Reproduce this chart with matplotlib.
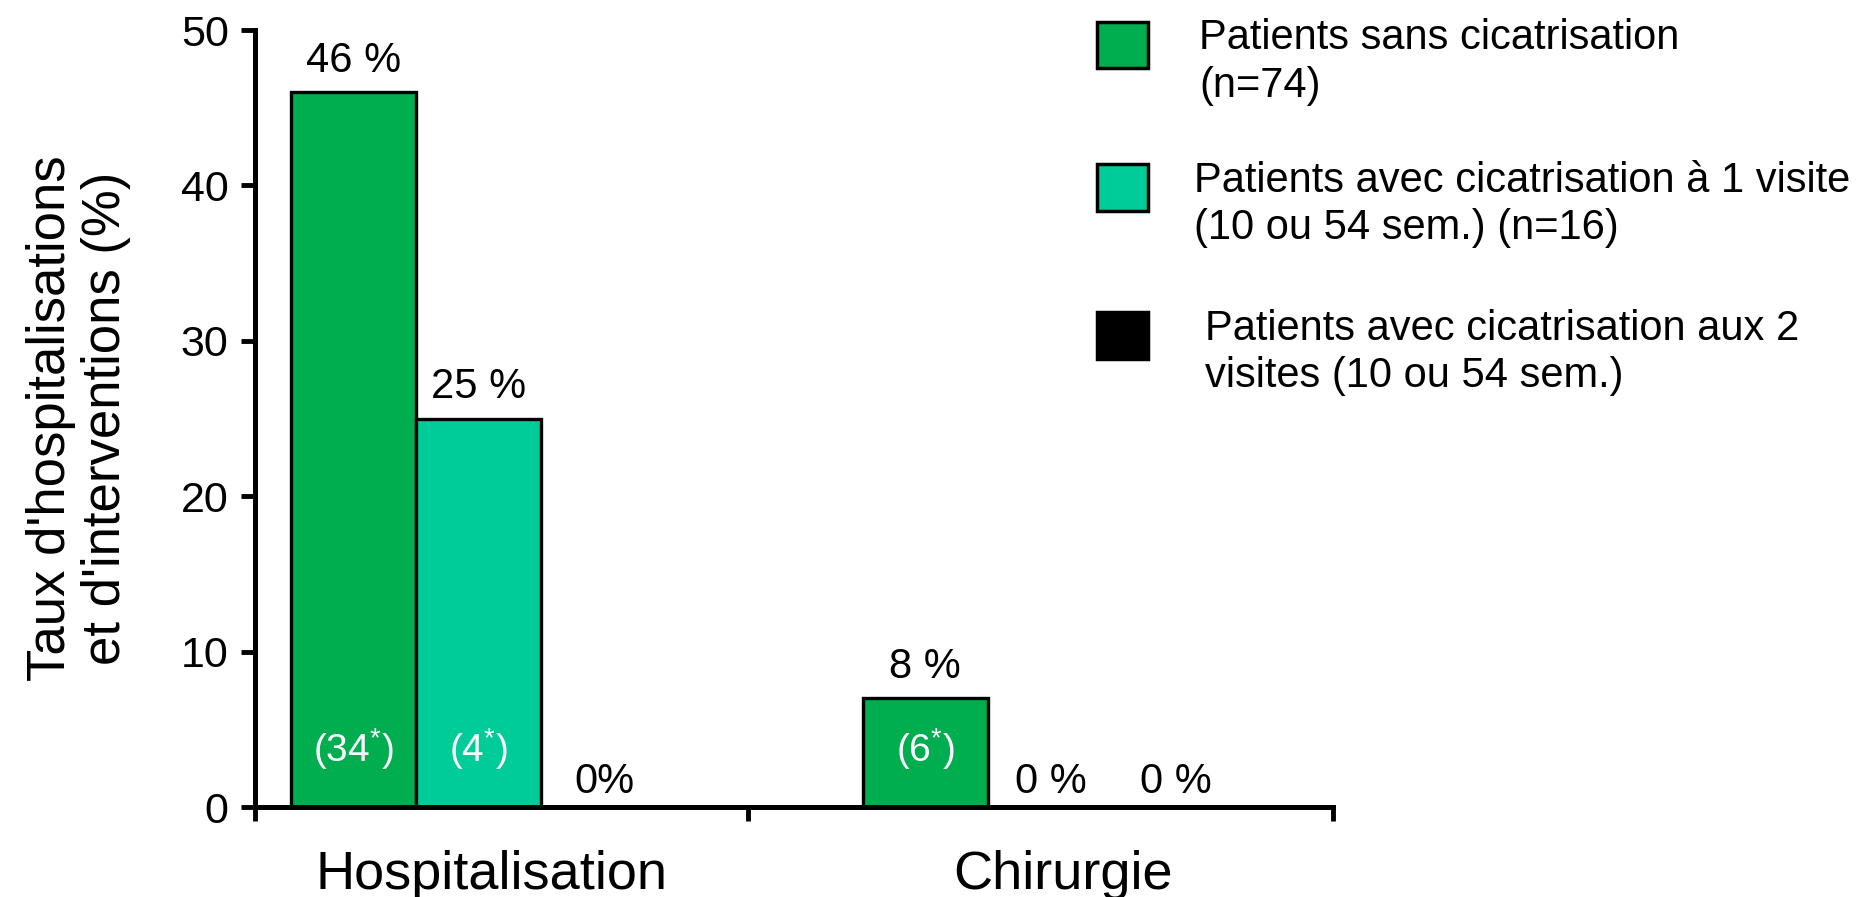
import matplotlib
matplotlib.use("Agg")
import numpy as np
import matplotlib.pyplot as plt
from matplotlib.patches import Rectangle

plt.rcParams['font.family'] = ['Liberation Sans', 'DejaVu Sans']
plt.rcParams['mathtext.fontset'] = 'custom'
plt.rcParams['mathtext.rm'] = 'Liberation Sans'
plt.rcParams['mathtext.it'] = 'Liberation Sans:italic'

# data
categories = ["Hospitalisation", "Chirurgie"]
series_names = ["Patients sans cicatrisation\n(n=74)",
                "Patients avec cicatrisation à 1 visite\n(10 ou 54 sem.) (n=16)",
                "Patients avec cicatrisation aux 2\nvisites (10 ou 54 sem.)"]
sans_cic = [46, 7]
cic_1visite = [25, 0]
cic_2visites = [0, 0]
value_labels = [["46 %", "25 %", "0%"], ["8 %", "0 %", "0 %"]]
count_labels = [["(34$^{*}$)", "(4$^{*}$)", ""], ["(6$^{*}$)", "", ""]]

colors = ["#00AD4F", "#00CC99", "#000000"]

fig = plt.figure(figsize=(18.71, 8.97), dpi=100)
ax = fig.add_axes([0.1363, 0.1003, 0.5762, 0.8662])

group_x = np.array([1.79, 6.36])
width = 1.0
series = [sans_cic, cic_1visite, cic_2visites]

for i, vals in enumerate(series):
    xs = group_x + (i - 1) * width
    ax.bar(xs, vals, width=width, color=colors[i], edgecolor="black",
           linewidth=2.4, zorder=2)
    for j, (x, v) in enumerate(zip(xs, vals)):
        y = v + 1.3 if v > 0 else 0.9
        ax.text(x, y, value_labels[j][i], ha="center", va="baseline",
                fontsize=30, color="black")
        if count_labels[j][i]:
            ax.text(x, 3.7, count_labels[j][i], ha="center", va="center",
                    fontsize=28, color="white")

ax.set_xlim(0, 8.62)
ax.set_ylim(0, 50)
ax.set_yticks([0, 10, 20, 30, 40, 50])
ax.set_xticks([0, 3.944, 8.62])
ax.set_xticklabels([])
ax.tick_params(axis="both", direction="out", length=10, width=3.5,
               labelsize=31, pad=9)
for s in ["top", "right"]:
    ax.spines[s].set_visible(False)
for s in ["left", "bottom"]:
    ax.spines[s].set_linewidth(3.6)
ax.spines["bottom"].set_zorder(3)

for x, name in zip(group_x + 0.1, categories):
    ax.text(x, -0.105, name, transform=ax.get_xaxis_transform(),
            ha="center", va="baseline", fontsize=39)

ax.set_ylabel("Taux d'hospitalisations\net d'interventions (%)",
              fontsize=38, linespacing=1.12, labelpad=36)

# legend drawn by hand to match the layout
leg_sq_y = [0.924, 0.765, 0.600]
leg_txt_x = [0.641, 0.638, 0.644]
for k in range(3):
    fig.add_artist(Rectangle((0.5863, leg_sq_y[k]), 0.0273, 0.052,
                             transform=fig.transFigure, facecolor=colors[k],
                             edgecolor="black", linewidth=2.5))
    fig.text(leg_txt_x[k], leg_sq_y[k] + 0.056, series_names[k],
             ha="left", va="top", fontsize=30, linespacing=1.25)

fig.savefig("out.png", dpi=100)
